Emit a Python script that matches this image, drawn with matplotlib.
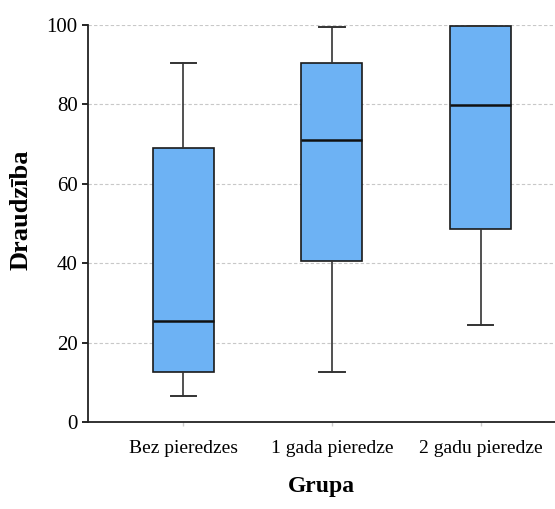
import matplotlib.pyplot as plt

groups = ['Bez pieredzes', '1 gada pieredze', '2 gadu pieredze']
whis_low = [6.5, 12.5, 24.5]
q1 = [12.5, 40.5, 48.5]
median = [25.5, 71, 79.8]
q3 = [69, 90.5, 99.8]
whis_high = [90.5, 99.5, 99.8]

plt.rcParams['font.family'] = ['Liberation Serif', 'DejaVu Serif']

fig = plt.figure(figsize=(5.55, 5.09), dpi=100)
ax = fig.add_axes([0.1586, 0.171, 0.8414, 0.78])

stats = []
for i in range(len(groups)):
    stats.append({'whislo': whis_low[i], 'q1': q1[i], 'med': median[i],
                  'q3': q3[i], 'whishi': whis_high[i], 'fliers': []})

ax.bxp(stats, positions=range(len(groups)), widths=0.41, patch_artist=True,
       showfliers=False,
       boxprops=dict(facecolor='#6db2f4', edgecolor='#1a1a1a', linewidth=1.2),
       medianprops=dict(color='#111111', linewidth=1.8),
       whiskerprops=dict(color='#333333', linewidth=1.2),
       capprops=dict(color='#333333', linewidth=1.4),
       capwidths=0.17)

for art in ax.get_children():
    try:
        art.set_clip_on(False)
    except Exception:
        pass

ax.set_xlim(-0.64, 2.5)
ax.set_ylim(0, 100)
ax.set_yticks([0, 20, 40, 60, 80, 100])
ax.set_xticks(range(len(groups)))
ax.set_xticklabels(groups)
ax.tick_params(axis='y', labelsize=15, length=4, width=1.2)
ax.tick_params(axis='x', labelsize=14, length=3, width=1, color='#cccccc', pad=10)
ax.yaxis.grid(True, linestyle=(0, (3, 2)), color='#c8c8c8', linewidth=0.8)
ax.set_axisbelow(True)

for s in ['top', 'right']:
    ax.spines[s].set_visible(False)
ax.spines['left'].set_linewidth(1.3)
ax.spines['bottom'].set_linewidth(1.3)
ax.spines['left'].set_color('#222222')
ax.spines['bottom'].set_color('#222222')

ax.set_ylabel('Draudzība', fontsize=19, fontweight='bold')
ax.yaxis.set_label_coords(-0.118, 0.534)
ax.set_xlabel('Grupa', fontsize=17, fontweight='bold', labelpad=14)

fig.savefig('out.png', dpi=100)
